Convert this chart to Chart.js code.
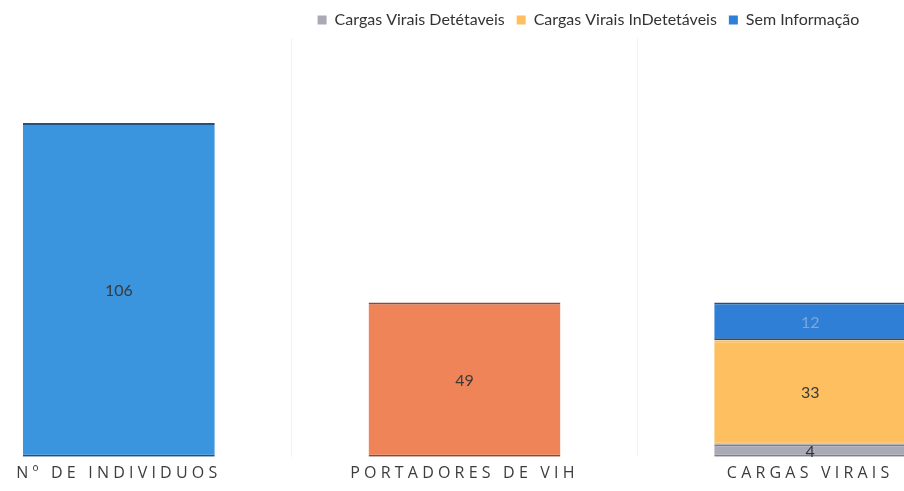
<!DOCTYPE html>
<html>
<head>
<meta charset="utf-8">
<script src="https://cdn.jsdelivr.net/npm/chart.js@4.4.1/dist/chart.umd.min.js"></script>
<style>
  html, body { margin: 0; padding: 0; background: #fff; overflow: hidden; }
  .wrap { position: absolute; left: -54px; top: 0; width: 1037px; height: 491px; }
</style>
</head>
<body>
<div class="wrap"><canvas id="grafico"></canvas></div>
<script>
const categorias = ["Nº DE INDIVIDUOS", "PORTADORES DE VIH", "CARGAS VIRAIS"];
const totais = [106, 49, null];
const detetaveis = [null, null, 4];
const indetetaveis = [null, null, 33];
const semInformacao = [null, null, 12];

// tira a legenda do centro do canvas (o grafico original esta cortado)
const moverLegenda = {
    id: "moverLegenda",
    afterLayout(chart) {
        chart.legend.left += 124;
        chart.legend.right += 124;
    }
};

// numeros dentro das barras + espacamento das letras do eixo x
const rotulos = {
    id: "rotulos",
    afterDatasetsDraw(chart) {
        const ctx = chart.ctx;
        ctx.save();
        ctx.font = "16px Lato";
        ctx.textAlign = "center";
        ctx.textBaseline = "middle";
        chart.data.datasets.forEach((ds, i) => {
            const meta = chart.getDatasetMeta(i);
            meta.data.forEach((bar, j) => {
                const v = ds.data[j];
                if (v === null) return;
                ctx.fillStyle = ds.corTexto;
                ctx.fillText(v, bar.x, (bar.y + bar.base) / 2 + 1);
            });
        });
        ctx.restore();
        ctx.letterSpacing = "4.2px";
    },
    afterDraw(chart) {
        chart.ctx.letterSpacing = "0px";
    }
};

const ctx = document.getElementById("grafico");
new Chart(ctx, {
    type: "bar",
    data: {
        labels: categorias,
        datasets: [
            {
                label: "Total",
                data: totais,
                backgroundColor: ["#3a95de", "#ef8458", "rgba(0,0,0,0)"],
                borderColor: ["#23507e", "#8c4a2e", "rgba(0,0,0,0)"],
                corTexto: "#3a3a3a"
            },
            {
                label: "Cargas Virais Detétaveis",
                data: detetaveis,
                backgroundColor: "#a9aab6",
                borderColor: "#7d7e88",
                corTexto: "#333"
            },
            {
                label: "Cargas Virais InDetetáveis",
                data: indetetaveis,
                backgroundColor: "#fdbf5f",
                borderColor: "#fdbf5f",
                corTexto: "#3a3a3a"
            },
            {
                label: "Sem Informação",
                data: semInformacao,
                backgroundColor: "#2f7fd6",
                borderColor: "#23507e",
                corTexto: "#7fa6d6"
            }
        ]
    },
    options: {
        responsive: true,
        maintainAspectRatio: false,
        animation: false,
        layout: { padding: { top: 0, bottom: 1 } },
        datasets: {
            bar: {
                categoryPercentage: 1,
                barPercentage: 0.555,
                borderWidth: { top: 2, bottom: 2, left: 0, right: 0 },
                borderSkipped: false
            }
        },
        plugins: {
            legend: {
                position: "top",
                labels: {
                    filter: (item) => item.datasetIndex > 0,
                    boxWidth: 9,
                    boxHeight: 9,
                    padding: 12,
                    color: "#333",
                    font: { family: "Lato", size: 16 },
                    generateLabels: (chart) => Chart.defaults.plugins.legend.labels.generateLabels(chart).map(l => ({ ...l, lineWidth: 0 }))
                }
            },
            tooltip: { enabled: false }
        },
        scales: {
            x: {
                stacked: true,
                grid: { offset: true, color: "#f2f2f2", drawTicks: false },
                border: { display: false },
                ticks: {
                    z: 1,
                    padding: 7,
                    color: "#3c3c3c",
                    font: { family: "'Open Sans'", size: 16 }
                }
            },
            y: {
                stacked: true,
                display: false,
                min: 0,
                max: 133
            }
        }
    },
    plugins: [moverLegenda, rotulos]
});
</script>
</body>
</html>
